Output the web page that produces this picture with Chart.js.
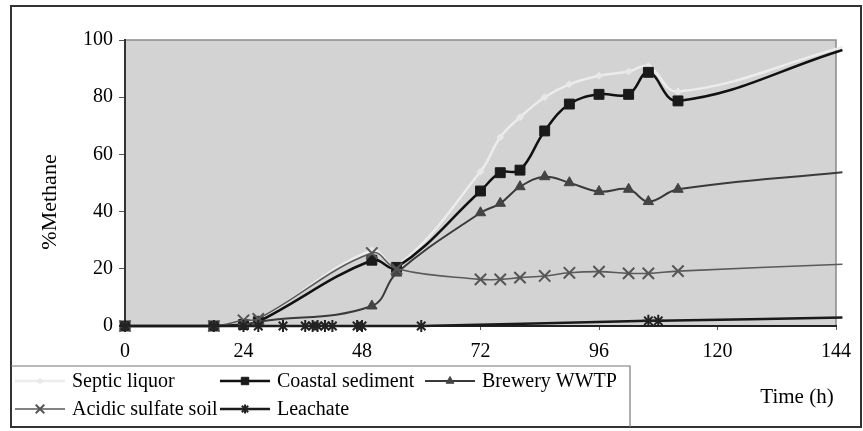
<!DOCTYPE html>
<html><head><meta charset="utf-8">
<script src="https://cdn.jsdelivr.net/npm/chart.js@4/dist/chart.umd.min.js"></script>
<style>html,body{margin:0;padding:0;background:#fff;}canvas{display:block;}</style>
</head><body>
<canvas id="c" width="863" height="431"></canvas>
<script>
// ---- data (hours, %methane) ----
const xTicks = [0, 24, 48, 72, 96, 120, 144];
const yTicks = [0, 20, 40, 60, 80, 100];
const seriesNames = ["Septic liquor", "Coastal sediment", "Brewery WWTP", "Acidic sulfate soil", "Leachate"];

const mainTime = [0, 18, 24, 27, 50, 55, 72, 76, 80, 85, 90, 96, 102, 106, 112, 145.3];
const septicLiquor    = [0, 0, 0.5, 2, 26.5, 21, 54, 66, 73, 80, 84.5, 87.5, 89, 90.8, 82, 97.5];
const coastalSediment = [0, 0, 0.5, 1.5, 23, 20.5, 47.2, 53.6, 54.5, 68.2, 77.6, 81, 81, 88.7, 78.7, 96.5];
const breweryWWTP     = [0, 0, 0.3, 1.5, 7, 18.5, 39.6, 42.9, 48.7, 52.2, 50.1, 47, 47.8, 43.5, 47.8, 53.8];
const acidicSulfate   = [0, 0, 2, 2.5, 25.5, 20, 16.3, 16.3, 16.9, 17.5, 18.6, 19, 18.4, 18.4, 19.2, 21.6];

const leachateTime = [0, 18, 24, 27, 32, 36.5, 38, 39, 40.5, 42, 47, 48, 60, 106, 108, 145.3];
const leachate     = [0, 0, 0, 0, 0, 0, 0, 0, 0, 0, 0, 0, 0, 1.8, 1.8, 3];

const pts = (xs, ys) => xs.map((x, i) => ({x: x, y: ys[i]}));
const noLastMarker = r => ctx => (ctx.dataIndex === ctx.dataset.data.length - 1 ? 0 : r);

const SERIF = '"Liberation Serif", "DejaVu Serif", serif';

const datasets = [
  {label: seriesNames[0], data: pts(mainTime, septicLiquor), borderColor: '#ececec', borderWidth: 2.5,
   pointStyle: 'rectRot', pointBackgroundColor: '#e8e8e8', pointBorderColor: '#e8e8e8', rad: 3.5, order: 5},
  {label: seriesNames[1], data: pts(mainTime, coastalSediment), borderColor: '#111', borderWidth: 2.5,
   pointStyle: 'rect', pointBackgroundColor: '#1a1a1a', pointBorderColor: '#1a1a1a', rad: 7, order: 4},
  {label: seriesNames[2], data: pts(mainTime, breweryWWTP), borderColor: '#3a3a3a', borderWidth: 2,
   pointStyle: 'triangle', pointBackgroundColor: '#444', pointBorderColor: '#444', rad: 6, order: 3},
  {label: seriesNames[3], data: pts(mainTime, acidicSulfate), borderColor: '#5a5a5a', borderWidth: 1.6,
   pointStyle: 'crossRot', pointBackgroundColor: '#555', pointBorderColor: '#555', rad: 8, order: 2, pbw: 2},
  {label: seriesNames[4], data: pts(leachateTime, leachate), borderColor: '#1a1a1a', borderWidth: 2.5,
   pointStyle: 'star', pointBackgroundColor: '#222', pointBorderColor: '#222', rad: 6, order: 1, pbw: 2}
].map(d => Object.assign(d, {
  tension: 0.4, fill: false, clip: false,
  pointRadius: noLastMarker(d.rad), pointHoverRadius: noLastMarker(d.rad),
  pointBorderWidth: d.pbw || 1
}));

const decor = {
  id: 'decor',
  beforeDraw(chart) {
    const {ctx, chartArea: a} = chart;
    ctx.save();
    ctx.fillStyle = '#fff';
    ctx.fillRect(0, 0, chart.width, chart.height);
    ctx.fillStyle = '#d3d3d3';
    ctx.fillRect(a.left, a.top, a.right - a.left, a.bottom - a.top);
    ctx.strokeStyle = '#8a8a8a';
    ctx.lineWidth = 1.5;
    ctx.beginPath();
    ctx.moveTo(a.left, a.top); ctx.lineTo(a.right, a.top); ctx.lineTo(a.right, a.bottom);
    ctx.stroke();
    ctx.restore();
  },
  afterDraw(chart) {
    const {ctx} = chart;
    ctx.save();
    // outer frame
    ctx.strokeStyle = '#333';
    ctx.lineWidth = 2;
    ctx.strokeRect(11, 6, 850, 421);
    // legend box
    ctx.strokeStyle = '#777';
    ctx.lineWidth = 1.2;
    ctx.beginPath();
    ctx.moveTo(11, 366); ctx.lineTo(630, 366); ctx.lineTo(630, 427);
    ctx.stroke();
    // axis titles
    ctx.fillStyle = '#000';
    ctx.font = '22px ' + SERIF;
    ctx.textAlign = 'center';
    ctx.textBaseline = 'middle';
    ctx.save();
    ctx.translate(50, 202);
    ctx.rotate(-Math.PI / 2);
    ctx.fillText('%Methane', 0, 0);
    ctx.restore();
    ctx.font = '21px ' + SERIF;
    ctx.fillText('Time (h)', 797, 397);
    // legend items
    const cols = [15, 220, 425];
    const rows = [381, 409];
    ctx.font = '20px ' + SERIF;
    ctx.textAlign = 'left';
    chart.data.datasets.forEach((ds, i) => {
      const cx = cols[i % 3], cy = rows[Math.floor(i / 3)];
      ctx.strokeStyle = ds.borderColor;
      ctx.lineWidth = ds.borderWidth;
      ctx.beginPath(); ctx.moveTo(cx, cy); ctx.lineTo(cx + 50, cy); ctx.stroke();
      ctx.fillStyle = ds.pointBackgroundColor;
      ctx.strokeStyle = ds.pointBorderColor;
      ctx.lineWidth = ds.pointBorderWidth;
      if (Chart.helpers && Chart.helpers.drawPoint) {
        Chart.helpers.drawPoint(ctx, {pointStyle: ds.pointStyle, radius: ds.rad * 0.75, rotation: 0, borderWidth: ds.pointBorderWidth}, cx + 25, cy);
      }
      ctx.fillStyle = '#000';
      ctx.fillText(ds.label, cx + 57, cy + 1);
    });
    ctx.restore();
  }
};

new Chart(document.getElementById('c'), {
  type: 'line',
  data: {datasets: datasets},
  plugins: [decor],
  options: {
    responsive: false, animation: false, devicePixelRatio: 1,
    layout: {padding: {left: 0, right: 27, top: 40, bottom: 60}},
    plugins: {legend: {display: false}, tooltip: {enabled: false}},
    scales: {
      x: {
        type: 'linear', min: xTicks[0], max: xTicks[xTicks.length - 1],
        afterBuildTicks: s => { s.ticks = xTicks.map(v => ({value: v})); },
        afterFit: s => { s.height = 45; },
        border: {display: true, color: '#222', width: 2},
        grid: {display: true, drawOnChartArea: false, drawTicks: true, tickLength: 4, tickColor: '#555'},
        ticks: {color: '#000', font: {family: SERIF, size: 20}, padding: 10, maxRotation: 0}
      },
      y: {
        min: yTicks[0], max: yTicks[yTicks.length - 1],
        afterBuildTicks: s => { s.ticks = yTicks.map(v => ({value: v})); },
        afterFit: s => { s.width = 125; },
        border: {display: true, color: '#333', width: 2},
        grid: {display: true, drawOnChartArea: false, drawTicks: true, tickLength: 6, tickColor: '#555'},
        ticks: {color: '#000', font: {family: SERIF, size: 20}, padding: 6}
      }
    }
  }
});
</script>
</body></html>
